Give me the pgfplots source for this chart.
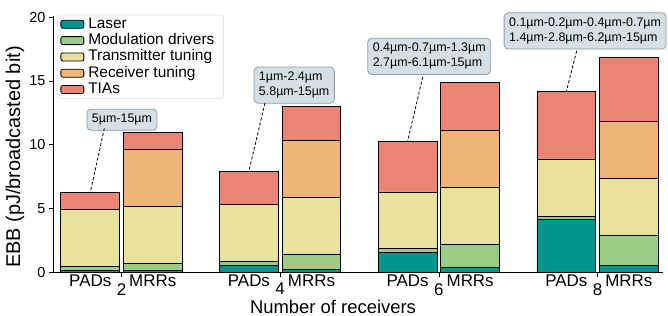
\documentclass[border=0pt]{standalone}
\usepackage{fontspec}
\setmainfont{Liberation Sans}
\usepackage{pgfplots}
\pgfplotsset{compat=1.18}
\definecolor{laser}{HTML}{00968F}
\definecolor{mod}{HTML}{9BCC84}
\definecolor{tx}{HTML}{E8E29C}
\definecolor{rx}{HTML}{EFB478}
\definecolor{tia}{HTML}{EB8474}
\definecolor{boxfill}{HTML}{D5DFE4}
\definecolor{boxdraw}{HTML}{8E9EA6}
\pgfplotsset{
  leg/.style={legend image code/.code={\draw[##1, line width=0.8bp] (0bp,-4bp) rectangle (23bp,4bp); \path (26bp,0bp);}},
}
\tikzset{
  annbox/.style={draw=boxdraw, fill=boxfill, rounded corners=4bp, line width=0.8bp,
    font=\fontsize{12.5}{15}\selectfont, align=left, inner xsep=5bp, inner ysep=5bp},
  annline/.style={dash pattern=on 3bp off 2bp, line width=0.8bp},
  lab/.style={anchor=north, inner sep=0pt, yshift=-2.5bp, font=\fontsize{17}{17}\selectfont},
}
\begin{document}
\begin{tikzpicture}
\useasboundingbox (-53bp,-43.5bp) rectangle (615bp,272.5bp);
\begin{axis}[
  scale only axis, width=610bp, height=256.5bp,
  xmin=-0.4316, xmax=3.412, ymin=0, ymax=20.1,
  clip=false,
  ybar stacked, bar width=0.37,
  axis x line*=bottom, axis y line*=left,
  axis line style={-, line width=0.8bp},
  tick align=outside, major tick length=4bp, tick style={line width=0.8bp, black},
  xtick={0,1,2,3}, xticklabels={2,4,6,8},
  ytick={0,5,10,15,20},
  /pgf/number format/assume math mode=true,
  yticklabel style={font=\fontsize{14.5}{14.5}\selectfont},
  xticklabel style={font=\fontsize{17}{17}\selectfont, inner sep=0pt, yshift=-6.5bp},
  xlabel={Number of receivers},
  xlabel style={font=\fontsize{18.5}{18.5}\selectfont, at={(axis description cs:0.459,0)}, anchor=north, inner sep=0pt, yshift=-27.5bp},
  ylabel={EBB (pJ/broadcasted bit)},
  ylabel style={font=\fontsize{20}{20}\selectfont, at={(axis description cs:-0.0623,0.45)}, anchor=center, inner sep=0pt},
  legend style={at={(rel axis cs:0.007,1.004)}, anchor=north west,
    font=\fontsize{15.5}{15.5}\selectfont, draw=black!15, rounded corners=2bp,
    inner xsep=3bp, inner ysep=1bp,
    nodes={inner sep=1bp, text height=11bp, text depth=3.3bp}},
  legend cell align=left,
]
\addplot[fill=laser, draw=black, line width=0.8bp, leg] coordinates {(-0.197,0.15) (0.197,0.18) (0.803,0.58) (1.197,0.27) (1.803,1.58) (2.197,0.41) (2.803,4.14) (3.197,0.53)};
\addlegendentry{Laser}
\addplot[fill=mod, draw=black, line width=0.8bp, leg] coordinates {(-0.197,0.34) (0.197,0.57) (0.803,0.27) (1.197,1.18) (1.803,0.32) (2.197,1.77) (2.803,0.29) (3.197,2.41)};
\addlegendentry{Modulation drivers\hspace*{5bp}}
\addplot[fill=tx, draw=black, line width=0.8bp, leg] coordinates {(-0.197,4.46) (0.197,4.46) (0.803,4.46) (1.197,4.47) (1.803,4.41) (2.197,4.47) (2.803,4.47) (3.197,4.44)};
\addlegendentry{Transmitter tuning}
\addplot[fill=rx, draw=black, line width=0.8bp, leg] coordinates {(-0.197,0) (0.197,4.44) (0.803,0) (1.197,4.44) (1.803,0) (2.197,4.49) (2.803,0) (3.197,4.49)};
\addlegendentry{Receiver tuning}
\addplot[fill=tia, draw=black, line width=0.8bp, leg] coordinates {(-0.197,1.32) (0.197,1.31) (0.803,2.64) (1.197,2.64) (1.803,3.97) (2.197,3.76) (2.803,5.30) (3.197,5.02)};
\addlegendentry{TIAs}

\node[lab] at (axis cs:-0.197,0) {PADs};
\node[lab] at (axis cs:0.197,0) {MRRs};
\node[lab] at (axis cs:0.803,0) {PADs};
\node[lab] at (axis cs:1.197,0) {MRRs};
\node[lab] at (axis cs:1.803,0) {PADs};
\node[lab] at (axis cs:2.197,0) {MRRs};
\node[lab] at (axis cs:2.803,0) {PADs};
\node[lab] at (axis cs:3.197,0) {MRRs};

\draw[annline] (axis cs:-0.108,11.30) -- (axis cs:-0.197,6.27);
\draw[annline] (axis cs:0.904,13.28) -- (axis cs:0.803,7.95);
\draw[annline] (axis cs:1.898,15.32) -- (axis cs:1.803,10.28);
\draw[annline] (axis cs:2.868,17.36) -- (axis cs:2.803,14.20);
\node[annbox] at (axis cs:0.003,11.97) {5µm-15µm};
\node[annbox] at (axis cs:1.088,14.68) {1µm-2.4µm\\5.8µm-15µm};
\node[annbox] at (axis cs:1.939,16.94) {0.4µm-0.7µm-1.3µm\\2.7µm-6.1µm-15µm};
\node[annbox] at (axis cs:2.921,18.93) {0.1µm-0.2µm-0.4µm-0.7µm\\1.4µm-2.8µm-6.2µm-15µm};
\end{axis}
\end{tikzpicture}
\end{document}
